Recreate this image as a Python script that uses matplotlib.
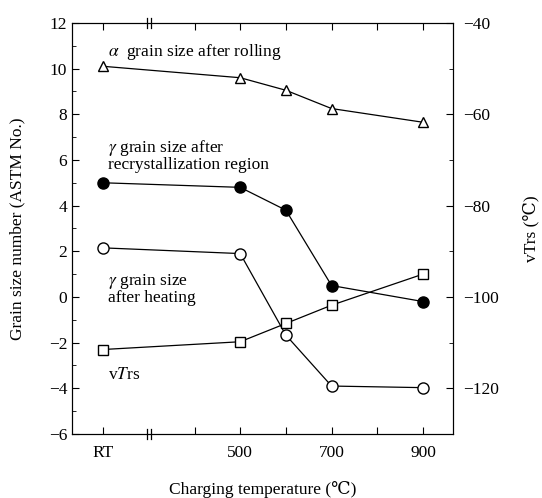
import matplotlib
matplotlib.use("Agg")
import matplotlib.pyplot as plt
import matplotlib.transforms as mtransforms

plt.rcParams['font.family'] = ['Liberation Serif', 'DejaVu Serif']
plt.rcParams['mathtext.fontset'] = 'stix'

# charging temperature, placed on an index axis (RT, break, 500..900)
temp_labels = ["RT", "500", "600", "700", "900"]
temp_pos = [0, 3, 4, 5, 7]

alpha_rolling = [10.1, 9.6, 9.05, 8.25, 7.65]
gamma_recryst = [5.0, 4.8, 3.8, 0.5, -0.2]
gamma_heating = [2.15, 1.9, -1.67, -3.9, -3.97]
vtrs = [-111.5, -109.8, -105.8, -101.8, -95.0]

fig = plt.figure(figsize=(5.42, 4.98), dpi=100)
ax = fig.add_axes([0.133, 0.1285, 0.703, 0.8255])
ax2 = ax.twinx()

kw = dict(color="black", lw=0.9)
ax.plot(temp_pos, alpha_rolling, marker="^", ms=7, mfc="white", mec="black", **kw)
ax.plot(temp_pos, gamma_recryst, marker="o", ms=8, mfc="black", mec="black", **kw)
ax.plot(temp_pos, gamma_heating, marker="o", ms=8, mfc="white", mec="black", **kw)
ax2.plot(temp_pos, vtrs, marker="s", ms=7, mfc="white", mec="black", **kw)

ax.set_xlim(-0.68, 7.66)
ax.set_ylim(-6, 12)
ax2.set_ylim(-130, -40)

ax.set_xticks([0, 2, 3, 4, 5, 6, 7])
ax.set_xticklabels(["RT", "", "500", "", "700", "", "900"])
ax.set_yticks(range(-6, 13, 2))
ax.set_yticklabels([str(v).replace("-", "\u2212") for v in range(-6, 13, 2)])
ax.set_yticks(range(-5, 12, 2), minor=True)
ax2.set_yticks(range(-120, -39, 20))
ax2.set_yticklabels([str(v).replace("-", "\u2212") for v in range(-120, -39, 20)])
ax2.set_yticks(range(-110, -49, 20), minor=True)

ax.tick_params(axis="both", which="both", direction="in", top=True, labelsize=12.5)
ax.tick_params(axis="x", pad=8)
ax.tick_params(which="major", length=5)
ax.tick_params(which="minor", length=3)
ax2.tick_params(axis="y", which="both", direction="in", labelsize=12.5, pad=7)
ax2.tick_params(which="major", length=5)
ax2.tick_params(which="minor", length=3)

# axis break marks at the top and bottom spines
trans = mtransforms.blended_transform_factory(ax.transData, ax.transAxes)
for yb in (0.0, 1.0):
    for dx in (-0.04, 0.04):
        ax.plot([1 + dx, 1 + dx], [yb - 0.012, yb + 0.012], transform=trans,
                color="black", lw=0.9, clip_on=False)

ax.set_xlabel("Charging temperature (\u2103)", fontsize=12.5, labelpad=14)
ax.set_ylabel("Grain size number (ASTM No.)", fontsize=12.5, labelpad=17)
ax2.set_ylabel("vTrs (\u2103)", fontsize=12.5, labelpad=17)

ax.text(0.1, 10.55, r"$\alpha$  grain size after rolling", fontsize=12.5)
ax.text(0.1, 5.6, r"$\gamma$ grain size after" "\nrecrystallization region",
        fontsize=12.5, linespacing=0.95)
ax.text(0.1, -0.2, r"$\gamma$ grain size" "\nafter heating",
        fontsize=12.5, linespacing=0.85)
ax.text(0.1, -3.6, r"v$T$rs", fontsize=12.5)

fig.savefig("out.png", dpi=100)
